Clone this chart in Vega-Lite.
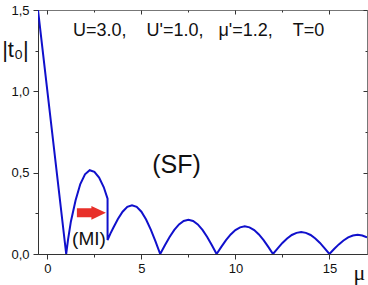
{
  "$schema": "https://vega.github.io/schema/vega-lite/v6.json",
  "width": 329,
  "height": 244,
  "autosize": {"type": "none"},
  "padding": {"left": 38, "top": 10, "right": 1, "bottom": 31},
  "background": "white",
  "config": {
    "view": {"stroke": "#777", "strokeWidth": 1},
    "font": "Liberation Sans",
    "axis": {"grid": false, "domainColor": "#333", "tickColor": "#333", "labelColor": "#111", "labelFont": "Liberation Sans", "labelFontSize": 13}
  },
  "resolve": {"axis": {"x": "independent", "y": "independent"}},
  "layer": [
    {
      "data": {"values": [
        {"x": -0.5, "y": 1.5}, {"x": 1.0, "y": 0.0}, {"x": 1.1, "y": 0.09}, {"x": 1.25, "y": 0.2}, {"x": 1.5, "y": 0.33}, {"x": 1.75, "y": 0.43}, {"x": 2.0, "y": 0.49}, {"x": 2.25, "y": 0.515}, {"x": 2.5, "y": 0.505}, {"x": 2.75, "y": 0.47}, {"x": 3.0, "y": 0.41}, {"x": 3.2, "y": 0.34},
        {"x": 3.2, "y": 0.086}, {"x": 3.35, "y": 0.125}, {"x": 3.5, "y": 0.16}, {"x": 3.75, "y": 0.215}, {"x": 4.0, "y": 0.26}, {"x": 4.25, "y": 0.29}, {"x": 4.5, "y": 0.3}, {"x": 4.75, "y": 0.29}, {"x": 5.0, "y": 0.26}, {"x": 5.25, "y": 0.212}, {"x": 5.5, "y": 0.15}, {"x": 5.75, "y": 0.078}, {"x": 6.0, "y": 0.0},
        {"x": 6.25, "y": 0.054}, {"x": 6.5, "y": 0.105}, {"x": 6.75, "y": 0.148}, {"x": 7.0, "y": 0.182}, {"x": 7.25, "y": 0.203}, {"x": 7.5, "y": 0.21}, {"x": 7.75, "y": 0.203}, {"x": 8.0, "y": 0.182}, {"x": 8.25, "y": 0.148}, {"x": 8.5, "y": 0.105}, {"x": 8.75, "y": 0.054}, {"x": 9.0, "y": 0.0},
        {"x": 9.25, "y": 0.044}, {"x": 9.5, "y": 0.085}, {"x": 9.75, "y": 0.12}, {"x": 10.0, "y": 0.147}, {"x": 10.25, "y": 0.164}, {"x": 10.5, "y": 0.17}, {"x": 10.75, "y": 0.164}, {"x": 11.0, "y": 0.147}, {"x": 11.25, "y": 0.12}, {"x": 11.5, "y": 0.085}, {"x": 11.75, "y": 0.044}, {"x": 12.0, "y": 0.0},
        {"x": 12.25, "y": 0.035}, {"x": 12.5, "y": 0.068}, {"x": 12.75, "y": 0.095}, {"x": 13.0, "y": 0.117}, {"x": 13.25, "y": 0.13}, {"x": 13.5, "y": 0.135}, {"x": 13.75, "y": 0.13}, {"x": 14.0, "y": 0.117}, {"x": 14.25, "y": 0.095}, {"x": 14.5, "y": 0.068}, {"x": 14.75, "y": 0.035}, {"x": 15.0, "y": 0.0},
        {"x": 15.25, "y": 0.031}, {"x": 15.5, "y": 0.059}, {"x": 15.75, "y": 0.083}, {"x": 16.0, "y": 0.102}, {"x": 16.25, "y": 0.114}, {"x": 16.5, "y": 0.118}, {"x": 16.75, "y": 0.114}, {"x": 17.0, "y": 0.102}
      ]},
      "mark": {"type": "line", "color": "#1010cc", "strokeWidth": 2, "clip": true},
      "encoding": {
        "x": {"field": "x", "type": "quantitative", "scale": {"domain": [-0.5, 17], "nice": false, "zero": false},
          "axis": {"orient": "bottom", "values": [0, 2.5, 5, 7.5, 10, 12.5, 15], "labelExpr": "datum.value % 5 === 0 ? datum.label : ''", "tickSize": {"condition": {"test": "datum.value % 5 === 0", "value": 5}, "value": 3}, "labelPadding": 3, "labelFlush": false,
            "title": "μ", "titleFont": "Liberation Serif", "titleFontSize": 22, "titleFontWeight": "normal", "titleColor": "#111", "titleX": 321, "titleY": 18, "titleAlign": "center", "titleBaseline": "middle"}},
        "y": {"field": "y", "type": "quantitative", "scale": {"domain": [0, 1.5], "nice": false},
          "axis": {"orient": "left", "values": [0, 0.25, 0.5, 0.75, 1, 1.25, 1.5], "labelExpr": "datum.value * 2 === round(datum.value * 2) ? replace(format(datum.value, '.1f'), '.', ',') : ''", "tickSize": {"condition": {"test": "datum.value * 2 === round(datum.value * 2)", "value": 5}, "value": 3}, "labelPadding": 4, "labelFlush": false,
            "title": "|t₀|", "titleFontSize": 22, "titleFontWeight": "normal", "titleColor": "#111", "titleAngle": 0, "titleX": -23, "titleY": 39, "titleAlign": "center", "titleBaseline": "middle"}},
        "order": {"value": null}
      }
    },
    {
      "data": {"values": [{"x": 1.36, "y": 1.34, "t": "U=3.0,\u00a0\u00a0\u00a0\u00a0U'=1.0,\u00a0\u00a0\u00a0μ'=1.2,\u00a0\u00a0\u00a0\u00a0T=0"}]},
      "mark": {"type": "text", "align": "left", "baseline": "alphabetic", "fontSize": 18, "color": "#111"},
      "encoding": {
        "x": {"field": "x", "type": "quantitative", "axis": {"orient": "top", "values": [0, 2.5, 5, 7.5, 10, 12.5, 15], "labels": false, "title": null, "tickSize": {"condition": {"test": "datum.value % 5 === 0", "value": -4}, "value": -2}, "domain": false}},
        "y": {"field": "y", "type": "quantitative", "axis": {"orient": "right", "values": [0, 0.25, 0.5, 0.75, 1, 1.25, 1.5], "labels": false, "title": null, "tickSize": {"condition": {"test": "datum.value * 2 === round(datum.value * 2)", "value": -4}, "value": -2}, "domain": false}},
        "text": {"field": "t"}
      }
    },
    {
      "data": {"values": [{"x": 6.87, "y": 0.547, "t": "(SF)"}]},
      "mark": {"type": "text", "align": "center", "baseline": "middle", "fontSize": 25, "color": "#111"},
      "encoding": {
        "x": {"field": "x", "type": "quantitative", "axis": null},
        "y": {"field": "y", "type": "quantitative", "axis": null},
        "text": {"field": "t"}
      }
    },
    {
      "data": {"values": [{"x": 2.21, "y": 0.092, "t": "(MI)"}]},
      "mark": {"type": "text", "align": "center", "baseline": "middle", "fontSize": 19, "color": "#111"},
      "encoding": {
        "x": {"field": "x", "type": "quantitative", "axis": null},
        "y": {"field": "y", "type": "quantitative", "axis": null},
        "text": {"field": "t"}
      }
    },
    {
      "data": {"values": [{"x": 2.34, "y": 0.253}]},
      "mark": {"type": "point", "filled": true, "color": "#e8302a", "opacity": 1, "size": 841, "shape": "M-1,-0.31L0,-0.31L0,-0.48L1,0L0,0.48L0,0.31L-1,0.31Z"},
      "encoding": {
        "x": {"field": "x", "type": "quantitative", "axis": null},
        "y": {"field": "y", "type": "quantitative", "axis": null}
      }
    }
  ]
}
